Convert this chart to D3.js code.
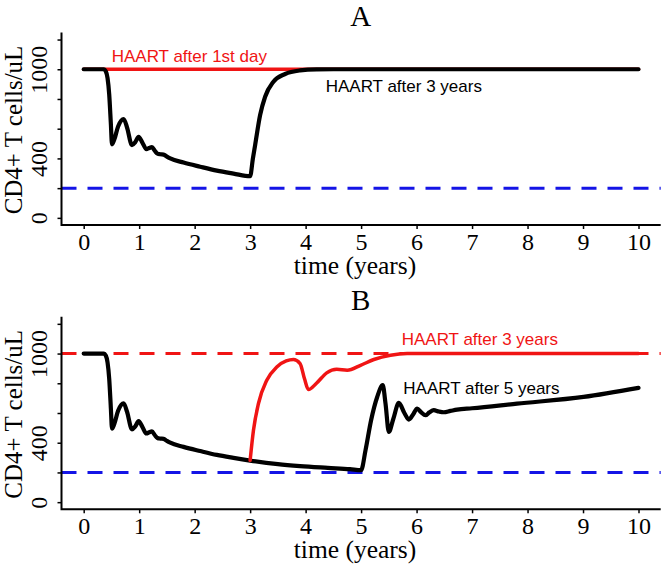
<!DOCTYPE html>
<html><head><meta charset="utf-8">
<script src="https://cdn.jsdelivr.net/npm/d3@7"></script>
<style>body{margin:0;background:#fff}</style>
</head><body>
<svg id="c" width="665" height="565"></svg>
<script>
// ---------- data ----------
const xTicks = [0,1,2,3,4,5,6,7,8,9,10];
const yTicks = [0,200,400,600,800,1000,1200];
const yTickLabels = [0,400,1000];
const panelTitles = ["A","B"];
const xLabel = "time (years)";
const yLabel = "CD4+ T cells/uL";
const threshold = 200;   // blue dashed line
const healthy = 1000;    // red dashed line (panel B)

// untreated course shared by both panels (t in years, CD4 cells/uL)
const earlyT = [0,0.36,0.40,0.43,0.46,0.49,0.51,0.55,0.62,0.72,0.78,0.87,0.93,0.99,1.06,1.13,1.18,1.23,1.28,1.33,1.38,1.44,1.50,1.56,1.8,2.1,2.4,2.7,3.0];
const earlyV = [1000,1000,985,940,830,630,495,525,615,665,610,490,510,545,505,462,470,476,452,432,428,426,412,400,372,344,318,298,280];

// Panel A
const aRedT = [0,10];
const aRedV = [1000,1000];
const aBlackLateT = [3.05,3.09,3.18,3.27,3.42,3.63,3.9,4.2,4.5,5,10];
const aBlackLateV = [400,490,692,815,916,968,992,999,1000,1000,1000];

// Panel B
const bRedT = [3.0,3.06,3.15,3.30,3.48,3.65,3.78,3.9,3.98,4.05,4.2,4.38,4.56,4.75,4.99,5.23,5.53,5.83,6.2,10];
const bRedV = [282,484,664,820,910,950,960,933,830,758,802,870,894,888,921,960,989,1000,1000,1000];
const bBlackLateT = [3.5,3.9,4.4,4.8,5.0,5.08,5.18,5.29,5.39,5.44,5.5,5.58,5.68,5.78,5.86,5.94,6.01,6.08,6.16,6.23,6.31,6.4,6.49,6.61,6.73,7.0,7.81,9.01,10];
const bBlackLateV = [256,243,231,222,215,350,551,708,787,664,473,560,668,600,556,592,630,606,585,604,619,610,605,614,623,632,663,708,769];

const labelTexts = [["HAART after 1st day","HAART after 3 years"],["HAART after 3 years","HAART after 5 years"]];

// ---------- drawing ----------
const RED = "#f01414", BLUE = "#1414e6";
const svg = d3.select("#c");
const x = d3.scaleLinear().domain([-0.4,10.4]).range([61.5,660.7]);
const serif = "'Liberation Serif','Times New Roman',serif";
const sans = "'Liberation Sans',Arial,sans-serif";
const zip = (t,v) => t.map((d,i)=>[d,v[i]]);

function panel(idx, dy, series, labels) {
  const g = svg.append("g").attr("transform", `translate(0,${dy})`);
  const y = d3.scaleLinear().domain([-48,1248]).range([225.0,32.4]);
  const line = d3.line().x(d=>x(d[0])).y(d=>y(d[1])).curve(d3.curveMonotoneX);

  // title
  g.append("text").attr("x",360.7).attr("y",26).attr("text-anchor","middle")
    .attr("font-family",serif).attr("font-size",29).text(panelTitles[idx]);

  // reference lines
  g.append("line").attr("x1",x(-0.4)).attr("x2",x(10.4)).attr("y1",y(threshold)).attr("y2",y(threshold))
    .attr("stroke",BLUE).attr("stroke-width",3).attr("stroke-dasharray","15,11");
  if (idx===1) {
    g.append("line").attr("x1",x(-0.4)).attr("x2",x(10.4)).attr("y1",y(healthy)).attr("y2",y(healthy))
      .attr("stroke",RED).attr("stroke-width",3).attr("stroke-dasharray","15,11");
  }

  // curves
  series.forEach(s => {
    g.append("path").datum(s.pts).attr("d",line).attr("fill","none")
      .attr("stroke",s.color).attr("stroke-width",s.w)
      .attr("stroke-linejoin","round").attr("stroke-linecap","round");
  });

  // axes (bty = "l")
  const ax = d3.axisBottom(x).tickValues(xTicks).tickSize(4).tickPadding(6).tickFormat(d3.format("d"));
  const gx = g.append("g").attr("transform",`translate(0,${y(-48)})`).call(ax);
  gx.select(".domain").remove();
  gx.selectAll("line").attr("stroke","#000").attr("stroke-width",1.5);
  gx.selectAll("text").attr("font-family",serif).attr("font-size",24).attr("fill","#000")
    .attr("dy",null).attr("y",24.5);
  const ay = d3.axisLeft(y).tickValues(yTicks).tickSize(4).tickFormat(d => yTickLabels.includes(d) ? d : "");
  const gy = g.append("g").attr("transform",`translate(${x(-0.4)},0)`).call(ay);
  gy.select(".domain").remove();
  gy.selectAll("line").attr("stroke","#000").attr("stroke-width",1.5);
  gy.selectAll("text").attr("font-family",serif).attr("font-size",24).attr("fill","#000")
    .attr("text-anchor","middle").attr("x",null).attr("dy",null)
    .attr("transform","translate(-15,0) rotate(-90)");
  g.append("path").attr("d",`M${x(-0.4)},${y(1248)}V${y(-48)}H${x(10.4)}`)
    .attr("fill","none").attr("stroke","#000").attr("stroke-width",2);

  // axis titles
  g.append("text").attr("x",355).attr("y",273.5).attr("text-anchor","middle")
    .attr("font-family",serif).attr("font-size",25.5).text(xLabel);
  g.append("text").attr("transform","translate(22.3,130) rotate(-90)").attr("text-anchor","middle")
    .attr("font-family",serif).attr("font-size",25).text(yLabel);

  // annotations
  labels.forEach(l => {
    g.append("text").attr("x",l.x).attr("y",l.y).attr("font-family",sans).attr("font-size",17)
      .attr("fill",l.color).text(l.text);
  });
}

const early = zip(earlyT, earlyV);
panel(0, 0, [
  {pts: zip(aRedT,aRedV), color: RED, w: 3.5},
  {pts: early.concat(zip(aBlackLateT,aBlackLateV)), color: "#000", w: 4.2}
], [
  {text: labelTexts[0][0], x: 111.7, y: 61.7, color: RED},
  {text: labelTexts[0][1], x: 325.7, y: 91.7, color: "#000"}
]);
panel(1, 284.3, [
  {pts: early.concat(zip(bBlackLateT,bBlackLateV)), color: "#000", w: 4.2},
  {pts: zip(bRedT,bRedV), color: RED, w: 3.5}
], [
  {text: labelTexts[1][0], x: 401.7, y: 60.7, color: RED},
  {text: labelTexts[1][1], x: 403.3, y: 109.7, color: "#000"}
]);
</script>
</body></html>
